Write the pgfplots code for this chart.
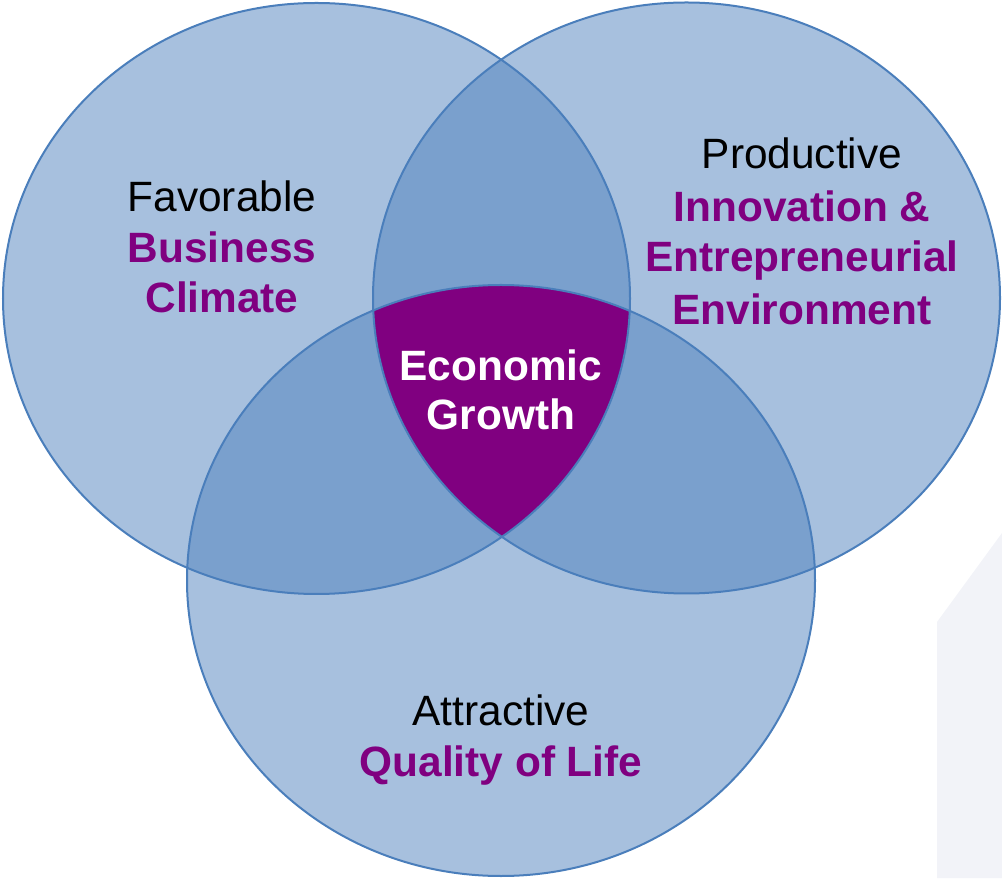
\documentclass[border=0pt]{standalone}
\usepackage{pgfplots}
\pgfplotsset{compat=1.18}
\usepackage{fontspec}
\setmainfont{Liberation Sans}
\definecolor{cfill}{HTML}{4F81BD}
\definecolor{cline}{HTML}{4A7EBB}
\definecolor{cpurp}{HTML}{800080}
\definecolor{cgrey}{HTML}{F2F3F8}
\newcommand{\lblsize}{\fontsize{31.8}{38}\selectfont}
\tikzset{lbl/.style={anchor=base, inner sep=0pt}}
\begin{document}
\begin{tikzpicture}
\begin{axis}[
  hide axis, scale only axis,
  width=751.5pt, height=658.5pt,
  xmin=0, xmax=1002, ymin=0, ymax=878,
  clip=true,
]
% background grey shape
\fill[cgrey] (axis cs:937,0) -- (axis cs:937,256) -- (axis cs:1002,345) -- (axis cs:1002,0) -- cycle;
% circles (centers in pixel-based axis units, y upward)
\fill[cfill, fill opacity=0.5] (axis cs:316.5,579.5) ellipse [x radius=313.5, y radius=295.5];
\fill[cfill, fill opacity=0.5] (axis cs:686.5,580) ellipse [x radius=313.5, y radius=295.5];
\fill[cfill, fill opacity=0.5] (axis cs:501,297.5) ellipse [x radius=314, y radius=295.5];
% centre intersection
\begin{scope}
\clip (axis cs:316.5,579.5) ellipse [x radius=313.5, y radius=295.5];
\clip (axis cs:686.5,580) ellipse [x radius=313.5, y radius=295.5];
\fill[cpurp] (axis cs:501,297.5) ellipse [x radius=314, y radius=295.5];
\end{scope}
% outlines
\draw[cline, line width=1.5pt] (axis cs:316.5,579.5) ellipse [x radius=313.5, y radius=295.5];
\draw[cline, line width=1.5pt] (axis cs:686.5,580) ellipse [x radius=313.5, y radius=295.5];
\draw[cline, line width=1.5pt] (axis cs:501,297.5) ellipse [x radius=314, y radius=295.5];
% labels (baselines)
\node[lbl, black] at (axis cs:222,666) {\lblsize Favorable};
\node[lbl, cpurp] at (axis cs:222,615) {\lblsize\bfseries Business};
\node[lbl, cpurp] at (axis cs:222,565) {\lblsize\bfseries Climate};
\node[lbl, black] at (axis cs:802,709) {\lblsize Productive};
\node[lbl, cpurp] at (axis cs:802,656) {\lblsize\bfseries Innovation \&};
\node[lbl, cpurp] at (axis cs:802,606) {\lblsize\bfseries Entrepreneurial};
\node[lbl, cpurp] at (axis cs:802,553) {\lblsize\bfseries Environment};
\node[lbl, white] at (axis cs:501,497) {\lblsize\bfseries Economic};
\node[lbl, white] at (axis cs:501,448) {\lblsize\bfseries Growth};
\node[lbl, black] at (axis cs:501,152) {\lblsize Attractive};
\node[lbl, cpurp] at (axis cs:501,102) {\lblsize\bfseries Quality of Life};
\end{axis}
\pgfresetboundingbox
\path[use as bounding box] (current axis.south west) rectangle (current axis.north east);
\end{tikzpicture}
\end{document}
